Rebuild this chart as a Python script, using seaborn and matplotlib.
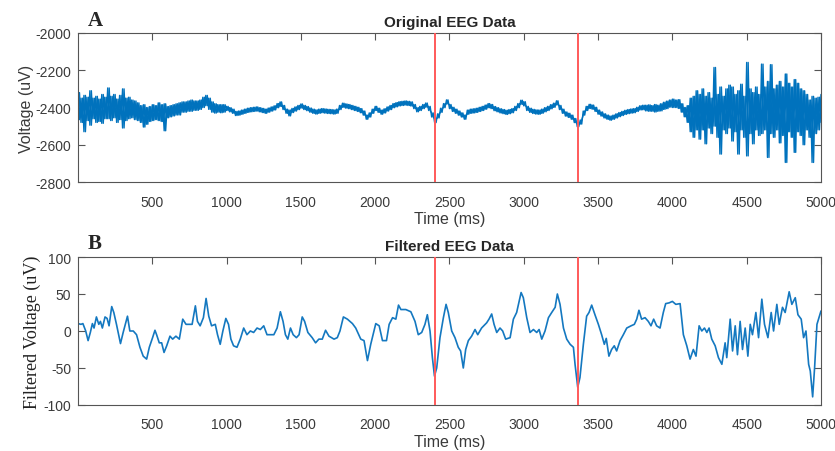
import numpy as np
import pandas as pd
import matplotlib
matplotlib.use("Agg")
import matplotlib.pyplot as plt
import seaborn as sns

# ---------------- data ----------------
# Original EEG: upper / lower extremes of the trace, every 20 ms from 0 to 5000 ms
orig_step = 20
orig_hi = [
    -2320, -2350, -2335, -2345, -2310, -2350, -2340, -2355, -2330, -2345,
    -2295, -2340, -2330, -2355, -2335, -2300, -2350, -2345, -2360, -2365,
    -2375, -2390, -2385, -2400, -2395, -2385, -2390, -2375, -2385, -2380,
    -2395, -2390, -2385, -2380, -2375, -2370, -2370, -2365, -2360, -2365,
    -2365, -2360, -2345, -2335, -2350, -2370, -2380, -2385, -2385, -2385,
    -2394, -2401, -2409, -2421, -2419, -2414, -2409, -2404, -2401, -2399,
    -2397, -2401, -2405, -2409, -2403, -2397, -2391, -2379, -2370, -2389,
    -2409, -2414, -2405, -2397, -2389, -2381, -2389, -2395, -2403, -2409,
    -2413, -2409, -2406, -2408, -2410, -2411, -2413, -2409, -2389, -2377,
    -2381, -2384, -2389, -2394, -2399, -2406, -2419, -2441, -2429, -2409,
    -2394, -2404, -2414, -2407, -2397, -2389, -2379, -2374, -2369, -2367,
    -2365, -2367, -2370, -2384, -2401, -2394, -2384, -2376, -2394, -2429,
    -2459, -2434, -2404, -2379, -2359, -2384, -2399, -2409, -2419, -2429,
    -2441, -2414, -2409, -2407, -2404, -2399, -2394, -2387, -2379, -2384,
    -2395, -2401, -2407, -2411, -2415, -2411, -2406, -2394, -2379, -2361,
    -2369, -2394, -2404, -2410, -2413, -2414, -2409, -2401, -2394, -2385,
    -2377, -2364, -2389, -2409, -2424, -2431, -2441, -2459, -2481, -2467,
    -2419, -2394, -2383, -2387, -2399, -2414, -2424, -2434, -2441, -2446,
    -2441, -2434, -2427, -2421, -2415, -2411, -2408, -2406, -2399, -2391,
    -2388, -2388, -2386, -2390, -2384, -2388, -2380, -2372, -2366, -2360,
    -2355, -2360, -2358, -2380, -2400, -2390, -2350, -2340, -2310, -2330,
    -2300, -2340, -2320, -2350, -2185, -2330, -2290, -2340, -2300, -2280,
    -2290, -2330, -2310, -2275, -2340, -2158, -2300, -2320, -2290, -2330,
    -2167, -2290, -2260, -2170, -2300, -2280, -2260, -2290, -2220, -2270,
    -2290, -2250, -2270, -2300, -2310, -2330, -2360, -2340, -2350, -2345,
    -2330,
]
orig_lo = [
    -2465, -2480, -2530, -2470, -2495, -2460, -2480, -2475, -2485, -2460,
    -2460, -2470, -2455, -2480, -2465, -2510, -2470, -2460, -2455, -2465,
    -2470, -2480, -2505, -2490, -2475, -2470, -2465, -2470, -2475, -2525,
    -2455, -2450, -2445, -2440, -2440, -2425, -2425, -2420, -2420, -2415,
    -2415, -2410, -2400, -2390, -2410, -2425, -2430, -2425, -2428, -2425,
    -2416, -2423, -2431, -2443, -2441, -2436, -2431, -2426, -2423, -2421,
    -2419, -2423, -2427, -2431, -2425, -2419, -2413, -2401, -2394, -2411,
    -2431, -2445, -2427, -2419, -2411, -2403, -2411, -2417, -2425, -2431,
    -2435, -2431, -2428, -2430, -2432, -2433, -2435, -2431, -2411, -2399,
    -2403, -2406, -2411, -2416, -2421, -2428, -2441, -2463, -2451, -2431,
    -2416, -2426, -2436, -2429, -2419, -2411, -2401, -2396, -2391, -2389,
    -2387, -2389, -2392, -2406, -2423, -2416, -2406, -2398, -2416, -2451,
    -2481, -2456, -2426, -2401, -2381, -2406, -2421, -2431, -2441, -2451,
    -2463, -2436, -2431, -2429, -2426, -2421, -2416, -2409, -2401, -2406,
    -2417, -2423, -2429, -2433, -2437, -2433, -2428, -2416, -2401, -2383,
    -2391, -2416, -2426, -2432, -2435, -2436, -2431, -2423, -2416, -2407,
    -2399, -2386, -2411, -2431, -2446, -2453, -2463, -2481, -2503, -2489,
    -2441, -2416, -2405, -2409, -2421, -2436, -2446, -2456, -2463, -2468,
    -2463, -2456, -2449, -2443, -2437, -2433, -2430, -2428, -2421, -2413,
    -2412, -2418, -2420, -2420, -2424, -2420, -2418, -2410, -2406, -2398,
    -2400, -2400, -2405, -2425, -2450, -2480, -2530, -2560, -2520, -2570,
    -2520, -2595, -2510, -2540, -2500, -2560, -2650, -2520, -2540, -2510,
    -2580, -2530, -2650, -2520, -2560, -2660, -2540, -2595, -2520, -2550,
    -2540, -2520, -2668, -2540, -2560, -2520, -2590, -2550, -2695, -2530,
    -2560, -2641, -2530, -2550, -2600, -2520, -2560, -2695, -2540, -2520,
    -2480,
]

# Filtered EEG: (time ms, voltage uV)
filt_t = [0, 20, 33, 52, 68, 83, 97, 108, 124, 140, 151, 164, 182, 196, 209, 227,
          241, 259, 286, 304, 333, 349, 372, 394, 417, 439, 462, 480, 502, 518,
          529, 547, 563, 579, 597, 619, 637, 659, 682, 705, 727, 754, 768, 790,
          804, 822, 844, 862, 880, 899, 924, 939, 957, 975, 995, 1013, 1029, 1047,
          1070, 1092, 1115, 1137, 1160, 1182, 1205, 1227, 1250, 1272, 1295, 1318,
          1340, 1362, 1380, 1396, 1412, 1430, 1448, 1470, 1488, 1509, 1525, 1547,
          1576, 1599, 1621, 1644, 1666, 1689, 1723, 1745, 1763, 1786, 1813, 1847,
          1869, 1903, 1925, 1948, 1970, 2004, 2027, 2049, 2076, 2094, 2117, 2139,
          2157, 2173, 2206, 2240, 2268, 2290, 2313, 2335, 2351, 2369, 2385, 2399,
          2414, 2436, 2459, 2477, 2492, 2515, 2537, 2559, 2575, 2593, 2609, 2627,
          2649, 2672, 2690, 2716, 2750, 2766, 2784, 2800, 2818, 2840, 2858, 2878,
          2908, 2930, 2952, 2982, 2997, 3020, 3042, 3065, 3087, 3103, 3121, 3143,
          3166, 3188, 3211, 3226, 3244, 3267, 3289, 3312, 3334, 3345, 3363, 3378,
          3401, 3423, 3439, 3457, 3479, 3502, 3524, 3542, 3555, 3573, 3591, 3609,
          3625, 3648, 3670, 3693, 3722, 3744, 3760, 3775, 3793, 3816, 3838, 3856,
          3874, 3894, 3917, 3939, 3955, 3978, 4000, 4023, 4052, 4074, 4097, 4119,
          4141, 4159, 4180, 4198, 4216, 4232, 4247, 4265, 4288, 4310, 4333, 4355,
          4366, 4389, 4405, 4423, 4438, 4456, 4472, 4490, 4508, 4524, 4539, 4562,
          4580, 4602, 4620, 4643, 4665, 4681, 4703, 4719, 4741, 4759, 4786, 4804,
          4827, 4845, 4867, 4883, 4899, 4917, 4928, 4944, 4957, 4973, 5000]
filt_v = [10, 9, 10, 0, -13, -2, 10, 4, 19, 9, 13, 4, 19, 17, 7, 33,
          25, 9, -17, -2, 20, 0, 0, -5, -22, -34, -38, -22, -9, 1,
          -5, -16, -16, -29, -20, -7, -11, -7, -11, 16, 9, 9, 9, 34,
          13, 7, 18, 44, 20, 7, 9, -5, -18, 0, 17, 9, -11, -20,
          -22, -11, 4, -5, 0, -2, 4, 2, 7, -5, -5, -5,
          4, 26, 13, -5, -11, 4, -5, -9, -5, 19, 13, -2,
          -9, -16, -11, -11, 1, -7, -11, -9, 0, 19, 16, 10,
          4, -11, -13, -40, -18, 10, 7, -13, -13, 9, 18, 16,
          35, 29, 29, 26, 13, -5, -2, 9, 22, 0, -36, -61,
          -50, -9, 18, 36, 25, 0, -9, -22, -27, -50, -25, -13,
          -7, 2, -5, 4, 11, 16, 23, 9, -2, 4, 0, -11,
          -9, 16, 25, 52, 45, 18, -2, 2, -2, 2, -11, 0,
          18, 25, 32, 50, 36, 4, -11, -18, -22, -45, -76, -63,
          -18, 20, 25, 35, 22, 9, -5, -18, -10, -34, -25, -20,
          -27, -13, -5, 4, 7, 9, 16, 28, 16, 18, 13, 7,
          16, 7, 4, 25, 37, 38, 40, 36, 37, -5, -20, -38,
          -25, -34, 7, 0, 4, -2, 4, -11, -20, -36, -45, -16,
          -36, 16, -27, 7, -32, 13, -25, 4, -34, 9, -5, 25,
          -9, 43, 9, -9, 25, 0, 36, 9, 32, 25, 53, 36,
          45, 22, 16, -9, 0, -45, -54, -89, -50, 9, 27]

events_ms = [2400, 3362]

# ---------------- build tables ----------------
t0 = np.arange(len(orig_hi)) * orig_step
half = orig_step / 2


def zigzag(first, second):
    x = np.empty(2 * len(t0))
    y = np.empty(2 * len(t0))
    x[0::2] = t0
    x[1::2] = t0 + half
    y[0::2] = first
    y[1::2] = second
    m = x <= 5000
    return pd.DataFrame({"t": x[m], "v": y[m]})


orig_a = zigzag(orig_hi, orig_lo)   # hi -> lo
orig_b = zigzag(orig_lo, orig_hi)   # lo -> hi (other phase)
filt_df = pd.DataFrame({"t": filt_t, "v": filt_v})

# ---------------- style ----------------
sns.set_theme(style="white")
plt.rcParams["font.family"] = ["Liberation Sans", "DejaVu Sans"]
plt.rcParams["axes.unicode_minus"] = False

BLUE = "#0072BD"
RED = "#FF5A5A"
SPINE = "#555555"
TXT = "#3a3a3a"

fig = plt.figure(figsize=(8.35, 4.52), dpi=100)
ax1 = fig.add_axes([0.0934, 0.5951, 0.8898, 0.3297])
ax2 = fig.add_axes([0.0934, 0.1018, 0.8898, 0.3274])

for d in (orig_a, orig_b):
    sns.lineplot(data=d, x="t", y="v", ax=ax1, color=BLUE, linewidth=1.0,
                 estimator=None, sort=False)
sns.lineplot(data=filt_df, x="t", y="v", ax=ax2, color="#1478C0", linewidth=1.2,
             estimator=None, sort=False)
for ln in ax2.get_lines():
    ln.set_solid_joinstyle("round")

for ax in (ax1, ax2):
    for e in events_ms:
        ax.axvline(e, color=RED, linewidth=1.4, zorder=5)
    ax.set_xlim(0, 5000)
    ax.set_xticks([500, 1000, 1500, 2000, 2500, 3000, 3500, 4000, 4500, 5000])
    ax.tick_params(axis="both", direction="in", length=5, width=0.8,
                   colors=SPINE, labelcolor=TXT, labelsize=10,
                   top=True, right=True, bottom=False, left=True)
    ax.tick_params(axis="x", pad=9)
    ax.tick_params(axis="y", pad=5)
    for s in ax.spines.values():
        s.set_color(SPINE)
        s.set_linewidth(0.8)
    ax.set_xlabel("Time (ms)", fontsize=11.5, color=TXT, labelpad=2)

ax1.set_ylim(-2800, -2000)
ax1.set_yticks([-2800, -2600, -2400, -2200, -2000])
ax1.set_ylabel("Voltage (uV)", fontsize=11.5, color=TXT, labelpad=1)
ax1.set_title("Original EEG Data", fontsize=11, fontweight="bold", pad=5)

ax2.set_ylim(-100, 100)
ax2.set_yticks([-100, -50, 0, 50, 100])
ax2.set_ylabel("Filtered Voltage (uV)", fontsize=13, color="#222222", labelpad=2,
               family=["Liberation Serif", "DejaVu Serif"])
ax2.set_title("Filtered EEG Data", fontsize=11, fontweight="bold", pad=5)

fig.text(88 / 835, 1 - 21 / 452, "A", fontsize=15, fontweight="bold",
         family=["Liberation Serif", "DejaVu Serif"], ha="left", va="center")
fig.text(88 / 835, 1 - 244 / 452, "B", fontsize=15, fontweight="bold",
         family=["Liberation Serif", "DejaVu Serif"], ha="left", va="center")

fig.savefig("out.png", dpi=100)
